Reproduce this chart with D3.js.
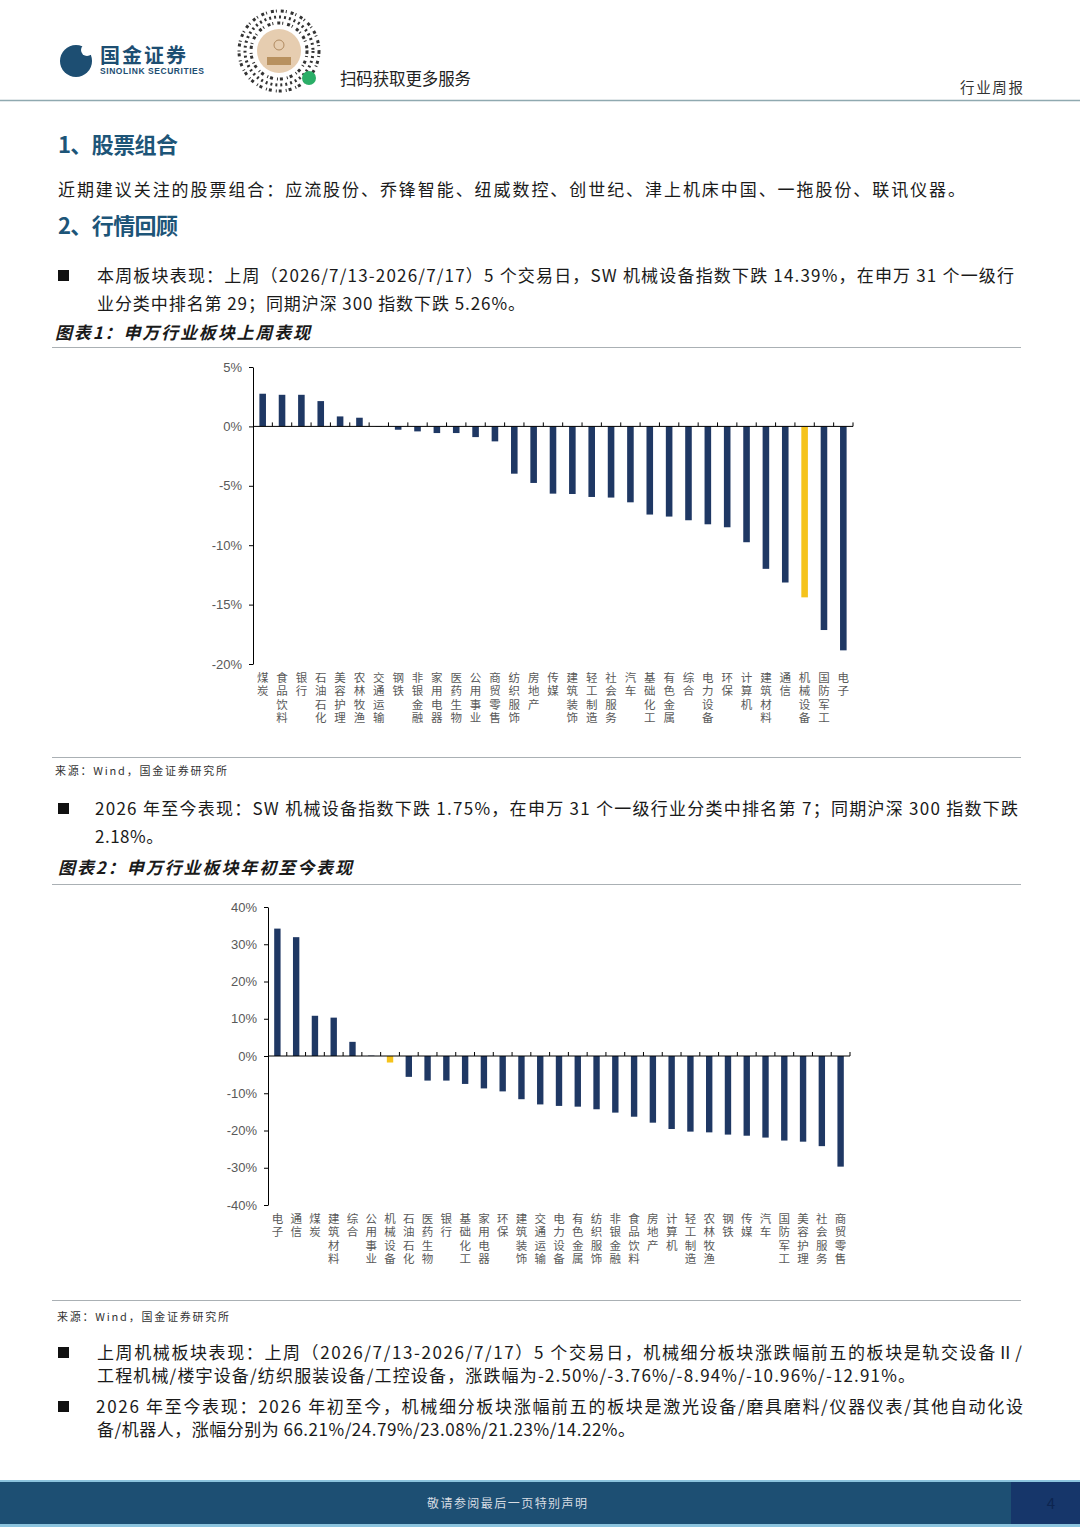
<!DOCTYPE html>
<html>
<head>
<meta charset="utf-8">
<style>
    body {
        margin: 0;
        background: #fff;
    }
    svg text {
        font-family: "Noto Sans CJK SC", "Noto Sans", sans-serif;
    }
    .body-text {
        font-size: 17px;
        fill: #1a1a1a;
    }
    .heading {
        font-size: 22px;
        font-weight: 700;
        fill: #1d5578;
    }
    .fig-title {
        font-size: 17px;
        font-weight: 700;
        font-style: italic;
        fill: #1a1a1a;
    }
    .source {
        font-size: 11px;
        fill: #333;
    }
    .tick text {
        font-family: "Liberation Sans", Arial, sans-serif;
        font-size: 13px;
        fill: #595959;
    }
    .tick line, .domain {
        stroke: #000;
    }
    .cat-label {
        font-size: 11.5px;
        fill: #595959;
    }
</style>
</head>
<body>
<div id="page"></div>
<script src="https://cdnjs.cloudflare.com/ajax/libs/d3/7.8.5/d3.min.js"></script>
<script>
// 图表1：申万行业板块上周表现 (%)
const weekCats = ["煤炭", "食品饮料", "银行", "石油石化", "美容护理", "农林牧渔", "交通运输", "钢铁",
    "非银金融", "家用电器", "医药生物", "公用事业", "商贸零售", "纺织服饰", "房地产", "传媒",
    "建筑装饰", "轻工制造", "社会服务", "汽车", "基础化工", "有色金属", "综合", "电力设备",
    "环保", "计算机", "建筑材料", "通信", "机械设备", "国防军工", "电子"];
const weekVals = [2.75, 2.66, 2.66, 2.13, 0.84, 0.73, 0.03, -0.28, -0.42, -0.56, -0.56, -0.90,
    -1.26, -3.98, -4.76, -5.66, -5.69, -5.94, -5.99, -6.39, -7.42, -7.59, -7.90, -8.24,
    -8.49, -9.75, -11.99, -13.14, -14.39, -17.14, -18.85];
const weekTicks = [5, 0, -5, -10, -15, -20];

// 图表2：申万行业板块年初至今表现 (%)
const ytdCats = ["电子", "通信", "煤炭", "建筑材料", "综合", "公用事业", "机械设备", "石油石化",
    "医药生物", "银行", "基础化工", "家用电器", "环保", "建筑装饰", "交通运输", "电力设备",
    "有色金属", "纺织服饰", "非银金融", "食品饮料", "房地产", "计算机", "轻工制造", "农林牧渔",
    "钢铁", "传媒", "汽车", "国防军工", "美容护理", "社会服务", "商贸零售"];
const ytdVals = [34.2, 31.9, 10.8, 10.3, 3.8, 0.1, -1.75, -5.6, -6.6, -6.6, -7.5, -8.7, -9.5,
    -11.6, -13.0, -13.4, -13.6, -14.3, -15.2, -16.3, -17.9, -19.6, -20.3, -20.5, -21.1,
    -21.4, -21.9, -22.7, -23.0, -24.2, -29.7];
const ytdTicks = [40, 30, 20, 10, 0, -10, -20, -30, -40];

const highlightCat = "机械设备";

const W = 1080, H = 1527;
const navy = "#1f3864", gold = "#f5c31c";

const svg = d3.select("#page")
    .append("svg")
    .attr("width", W)
    .attr("height", H);

// ---------- header ----------
const logo = svg.append("g");
logo.append("circle").attr("cx", 76).attr("cy", 61).attr("r", 16).attr("fill", "#1d4e72");
logo.append("circle").attr("cx", 87).attr("cy", 50).attr("r", 6).attr("fill", "#fff");
logo.append("text").attr("x", 100).attr("y", 63)
    .attr("font-size", 20).attr("font-weight", 700).attr("fill", "#1d4e72")
    .attr("textLength", 86).text("国金证券");
logo.append("text").attr("x", 100).attr("y", 74)
    .attr("font-size", 8.5).attr("font-weight", 700).attr("fill", "#1d4e72")
    .style("font-family", "'Liberation Sans', Arial, sans-serif")
    .attr("textLength", 104).text("SINOLINK SECURITIES");

// QR code placeholder (decorative)
const qr = svg.append("g").attr("transform", "translate(279,51)");
[40, 34, 28].forEach((r, i) => {
    qr.append("circle").attr("r", r).attr("fill", "none")
        .attr("stroke", "#333").attr("stroke-width", 3)
        .attr("stroke-dasharray", i % 2 ? "2 3" : "3 2 1 4");
});
qr.append("circle").attr("r", 22).attr("fill", "#e6cdb0");
qr.append("circle").attr("cy", -6).attr("r", 5).attr("fill", "none").attr("stroke", "#b08a60");
qr.append("rect").attr("x", -12).attr("y", 6).attr("width", 24).attr("height", 8).attr("fill", "#b8915f");
qr.append("circle").attr("cx", 30).attr("cy", 27).attr("r", 7).attr("fill", "#2aae67");

svg.append("text").attr("x", 340).attr("y", 85)
    .attr("font-size", 16.5).attr("fill", "#222").attr("textLength", 131)
    .text("扫码获取更多服务");
svg.append("text").attr("x", 960).attr("y", 93)
    .attr("font-size", 14.5).attr("fill", "#333").attr("textLength", 63)
    .text("行业周报");
svg.append("line").attr("x1", 0).attr("x2", W).attr("y1", 100.5).attr("y2", 100.5)
    .attr("stroke", "#8fa9b0").attr("stroke-width", 1.5);

// ---------- text blocks ----------
function textLine(x, y, str, len, cls) {
    const t = svg.append("text").attr("class", cls || "body-text")
        .attr("x", x).attr("y", y).text(str);
    if (len) t.attr("textLength", len).attr("lengthAdjust", "spacing");
    return t;
}
function bullet(x, y) {
    svg.append("rect").attr("x", x).attr("y", y - 12).attr("width", 11).attr("height", 11).attr("fill", "#111");
}
function rule(y) {
    svg.append("line").attr("x1", 52).attr("x2", 1021).attr("y1", y).attr("y2", y)
        .attr("stroke", "#aab0b4").attr("stroke-width", 1);
}

textLine(58, 153, "1、股票组合", 120, "heading");
textLine(58, 196, "近期建议关注的股票组合：应流股份、乔锋智能、纽威数控、创世纪、津上机床中国、一拖股份、联讯仪器。", 907);
textLine(58, 234, "2、行情回顾", 120, "heading");

bullet(58, 282);
textLine(97, 282, "本周板块表现：上周（2026/7/13-2026/7/17）5 个交易日，SW 机械设备指数下跌 14.39%，在申万 31 个一级行", 917);
textLine(97, 310, "业分类中排名第 29；同期沪深 300 指数下跌 5.26%。", 428);
textLine(55, 339, "图表1：申万行业板块上周表现", 255, "fig-title");
rule(347.5);

rule(757.5);
textLine(55, 775, "来源：Wind，国金证券研究所", 172, "source");

bullet(58, 815);
textLine(95, 815, "2026 年至今表现：SW 机械设备指数下跌 1.75%，在申万 31 个一级行业分类中排名第 7；同期沪深 300 指数下跌", 923);
textLine(95, 843, "2.18%。").attr("letter-spacing", 0.5);
textLine(58, 874, "图表2：申万行业板块年初至今表现", 294, "fig-title");
rule(884.5);

rule(1300.5);
textLine(57, 1321, "来源：Wind，国金证券研究所", 172, "source");

bullet(58, 1359);
textLine(97, 1359, "上周机械板块表现：上周（2026/7/13-2026/7/17）5 个交易日，机械细分板块涨跌幅前五的板块是轨交设备Ⅱ/", 925);
textLine(97, 1382, "工程机械/楼宇设备/纺织服装设备/工控设备，涨跌幅为-2.50%/-3.76%/-8.94%/-10.96%/-12.91%。", 818);
bullet(58, 1413);
textLine(96, 1413, "2026 年至今表现：2026 年初至今，机械细分板块涨幅前五的板块是激光设备/磨具磨料/仪器仪表/其他自动化设", 927);
textLine(97, 1436, "备/机器人，涨幅分别为 66.21%/24.79%/23.08%/21.23%/14.22%。", 538);

// ---------- footer ----------
svg.append("rect").attr("x", 0).attr("y", 1480).attr("width", W).attr("height", 2).attr("fill", "#8cc4de");
svg.append("rect").attr("x", 0).attr("y", 1482).attr("width", W).attr("height", 42).attr("fill", "#1d4f73");
svg.append("rect").attr("x", 1011).attr("y", 1482).attr("width", 69).attr("height", 42).attr("fill", "#16366a");
svg.append("rect").attr("x", 0).attr("y", 1524).attr("width", W).attr("height", 3).attr("fill", "#8cc4de");
svg.append("text").attr("x", 507).attr("y", 1508).attr("text-anchor", "middle")
    .attr("font-size", 12).attr("fill", "#d8dde3").attr("textLength", 160)
    .text("敬请参阅最后一页特别声明");
svg.append("text").attr("x", 1051).attr("y", 1509).attr("text-anchor", "middle")
    .attr("font-size", 15).attr("fill", "#0d2550").text("4");

// ---------- charts ----------
function drawBars(cfg) {
    const g = svg.append("g");

    const x = d3.scaleBand()
        .domain(cfg.cats)
        .range([cfg.x0, cfg.x1])
        .paddingInner(0.66)
        .paddingOuter(0.33);

    const y = d3.scaleLinear()
        .domain(cfg.yDomain)
        .range([cfg.yBot, cfg.yTop]);

    const data = cfg.cats.map((c, i) => ({ cat: c, val: cfg.vals[i] }));

    g.selectAll("rect.bar")
        .data(data)
        .enter()
        .append("rect")
        .attr("class", "bar")
        .attr("x", d => x(d.cat))
        .attr("width", x.bandwidth())
        .attr("y", d => Math.min(y(d.val), y(0)))
        .attr("height", d => Math.abs(y(d.val) - y(0)))
        .attr("fill", d => d.cat === highlightCat ? gold : navy);

    // y axis
    g.append("g")
        .attr("transform", `translate(${cfg.x0},0)`)
        .call(d3.axisLeft(y)
            .tickValues(cfg.ticks)
            .tickSize(4)
            .tickSizeOuter(0)
            .tickPadding(7)
            .tickFormat(d => d + "%"));

    // category axis at zero, with small ticks between bands
    const y0 = y(0);
    g.append("line")
        .attr("x1", cfg.x0).attr("x2", cfg.x1)
        .attr("y1", y0).attr("y2", y0)
        .attr("stroke", "#000");
    const step = x.step();
    g.selectAll("line.sep")
        .data(d3.range(1, cfg.cats.length + 1))
        .enter()
        .append("line")
        .attr("class", "sep")
        .attr("x1", i => cfg.x0 + i * step)
        .attr("x2", i => cfg.x0 + i * step)
        .attr("y1", y0 - 4)
        .attr("y2", y0)
        .attr("stroke", "#000");

    // vertical category labels, one character per row
    const labels = g.selectAll("text.cat-label")
        .data(cfg.cats)
        .enter()
        .append("text")
        .attr("class", "cat-label")
        .attr("text-anchor", "middle");
    labels.each(function (c) {
        const t = d3.select(this);
        Array.from(c).forEach((ch, i) => {
            t.append("tspan")
                .attr("x", x(c) + x.bandwidth() / 2)
                .attr("y", cfg.labelY + i * 13.4)
                .text(ch);
        });
    });
}

drawBars({
    cats: weekCats, vals: weekVals, ticks: weekTicks,
    yDomain: [-20, 5], yTop: 367, yBot: 664,
    x0: 253, x1: 853, labelY: 682
});

drawBars({
    cats: ytdCats, vals: ytdVals, ticks: ytdTicks,
    yDomain: [-40, 40], yTop: 907, yBot: 1205,
    x0: 268, x1: 850, labelY: 1223
});
</script>
</body>
</html>
